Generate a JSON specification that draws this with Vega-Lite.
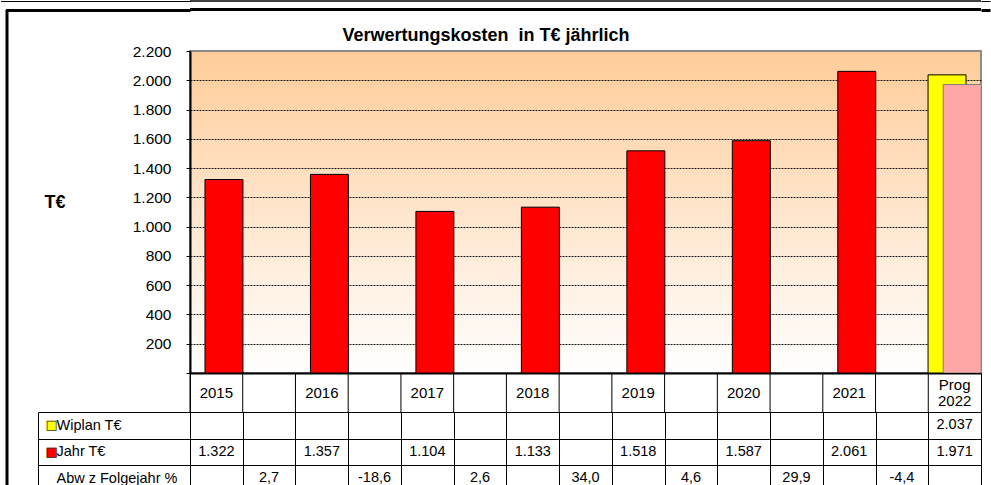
{
  "$schema": "https://vega.github.io/schema/vega-lite/v6.json",
  "padding": 0,
  "bounds": "flush",
  "spacing": 0,
  "config": {
    "font": "Liberation Sans",
    "view": {"stroke": null},
    "locale": {"number": {"decimal": ",", "thousands": ".", "grouping": [3], "currency": ["", " €"], "minus": "-"}},
    "axis": {"labelColor": "black", "titleColor": "black"}
  },
  "datasets": {
    "cols": [
      {"col": "2015", "label": "2015"},
      {"col": "2015/16", "label": ""},
      {"col": "2016", "label": "2016"},
      {"col": "2016/17", "label": ""},
      {"col": "2017", "label": "2017"},
      {"col": "2017/18", "label": ""},
      {"col": "2018", "label": "2018"},
      {"col": "2018/19", "label": ""},
      {"col": "2019", "label": "2019"},
      {"col": "2019/20", "label": ""},
      {"col": "2020", "label": "2020"},
      {"col": "2020/21", "label": ""},
      {"col": "2021", "label": "2021"},
      {"col": "2021/22", "label": ""},
      {"col": "Prog 2022", "label": "Prog\n2022"}
    ],
    "bars": [
      {"col": "2015", "series": "Jahr T€", "value": 1322},
      {"col": "2016", "series": "Jahr T€", "value": 1357},
      {"col": "2017", "series": "Jahr T€", "value": 1104},
      {"col": "2018", "series": "Jahr T€", "value": 1133},
      {"col": "2019", "series": "Jahr T€", "value": 1518},
      {"col": "2020", "series": "Jahr T€", "value": 1587},
      {"col": "2021", "series": "Jahr T€", "value": 2061},
      {"col": "Prog 2022", "series": "Jahr T€", "value": 1971},
      {"col": "Prog 2022", "series": "Wiplan T€", "value": 2037}
    ],
    "abw": [
      {"col": "2015/16", "row": "Abw z Folgejahr %", "value": 2.7},
      {"col": "2016/17", "row": "Abw z Folgejahr %", "value": -18.6},
      {"col": "2017/18", "row": "Abw z Folgejahr %", "value": 2.6},
      {"col": "2018/19", "row": "Abw z Folgejahr %", "value": 34.0},
      {"col": "2019/20", "row": "Abw z Folgejahr %", "value": 4.6},
      {"col": "2020/21", "row": "Abw z Folgejahr %", "value": 29.9},
      {"col": "2021/22", "row": "Abw z Folgejahr %", "value": -4.4}
    ]
  },
  "vconcat": [
    {
      "width": 791,
      "height": 8.5,
      "data": {"values": [{}]},
      "layer": [
        {
          "mark": {"type": "rule", "color": "black", "strokeWidth": 1},
          "encoding": {
            "y": {"datum": 1, "type": "quantitative", "scale": {"domain": [0, 1]},
              "axis": {"orient": "left", "values": [1], "domain": false, "labels": false, "grid": false, "ticks": true, "tickColor": "black", "tickSize": 189.5, "tickWidth": 1, "title": null}}
          }
        },
        {
          "mark": {"type": "rule", "color": "black", "strokeWidth": 1},
          "encoding": {
            "y": {"datum": 1, "type": "quantitative", "scale": {"domain": [0, 1]},
              "axis": {"orient": "right", "values": [1], "domain": false, "labels": false, "grid": false, "ticks": true, "tickColor": "black", "tickSize": 9, "tickWidth": 1, "title": null}}
          }
        },
        {
          "mark": {"type": "rule", "color": "black", "strokeWidth": 3},
          "encoding": {
            "y": {"datum": 0, "type": "quantitative", "scale": {"domain": [0, 1]},
              "axis": {"orient": "left", "values": [0], "domain": false, "labels": false, "grid": false, "ticks": true, "tickColor": "black", "tickSize": 184.5, "tickWidth": 3, "title": null}}
          }
        },
        {
          "mark": {"type": "rule", "color": "black", "strokeWidth": 3},
          "encoding": {
            "y": {"datum": 0, "type": "quantitative", "scale": {"domain": [0, 1]},
              "axis": {"orient": "right", "values": [0], "domain": false, "labels": false, "grid": false, "ticks": true, "tickColor": "black", "tickSize": 9, "tickWidth": 3, "title": null}}
          }
        },
        {
          "mark": {"type": "rule", "strokeOpacity": 0},
          "encoding": {
            "y": {"datum": 0, "type": "quantitative", "scale": {"domain": [0, 1], "range": [484, 8.5]},
              "axis": {"orient": "left", "offset": 183.5, "domain": true, "domainColor": "black", "domainWidth": 3, "ticks": false, "labels": false, "grid": false, "title": null}}
          }
        }
      ],
      "resolve": {"scale": {"y": "independent"}, "axis": {"y": "independent"}}
    },
    {
      "width": 791,
      "height": 40.5,
      "data": {"values": [{}]},
      "mark": {"type": "text", "text": "Verwertungskosten\u00a0 in T€ jährlich", "fontSize": 18, "fontWeight": "bold", "baseline": "alphabetic", "dx": -99.5, "dy": 10.25, "color": "black"},
      "encoding": {
        "y": {"datum": 0.5, "type": "quantitative", "scale": {"domain": [0, 1]}, "axis": null}
      }
    },
    {
      "width": 791,
      "height": 322,
      "view": {
        "fill": {"gradient": "linear", "x1": 0, "y1": 0, "x2": 0, "y2": 1, "stops": [{"offset": 0, "color": "#FFCC99"}, {"offset": 1, "color": "#FFFFFF"}]},
        "stroke": "#8c8c8c",
        "strokeWidth": 2
      },
      "data": {"name": "bars"},
      "layer": [
        {
          "transform": [{"filter": "datum.series == 'Wiplan T€'"}],
          "mark": {"type": "bar", "fill": "#FFFF00", "stroke": "black", "strokeWidth": 1, "width": {"band": 0.72}, "xOffset": -7.6},
          "encoding": {
            "x": {"field": "col", "type": "nominal",
              "scale": {"type": "band", "domain": ["2015", "2015/16", "2016", "2016/17", "2017", "2017/18", "2018", "2018/19", "2019", "2019/20", "2020", "2020/21", "2021", "2021/22", "Prog 2022"], "paddingInner": 0, "paddingOuter": 0},
              "axis": {"orient": "bottom", "domain": true, "domainColor": "black", "domainWidth": 2, "ticks": false, "labels": false, "grid": false, "title": null}},
            "y": {"field": "value", "type": "quantitative", "scale": {"domain": [0, 2200]},
              "axis": {
                "orient": "left",
                "values": [0, 200, 400, 600, 800, 1000, 1200, 1400, 1600, 1800, 2000, 2200],
                "format": ",.0f",
                "labelExpr": "datum.value == 0 ? '' : datum.label",
                "labelFontSize": 15.5, "labelColor": "black", "labelPadding": 15,
                "tickSize": 4, "tickColor": "black", "tickWidth": 1,
                "domainColor": "black", "domainWidth": 2,
                "grid": true, "gridColor": "#1a1a1a", "gridWidth": 1, "gridDash": [2, 1],
                "gridOpacity": {"condition": {"test": "datum.value == 0 || datum.value == 2200", "value": 0}, "value": 1},
                "title": "T€", "titleAngle": 0, "titleFontSize": 18, "titleFontWeight": "bold", "titleColor": "black",
                "titleAlign": "left", "titleBaseline": "middle", "titleX": -146, "titleY": 151
              }}
          }
        },
        {
          "transform": [{"filter": "datum.series == 'Jahr T€' && datum.col != 'Prog 2022'"}],
          "mark": {"type": "bar", "fill": "#FF0000", "stroke": "black", "strokeWidth": 1, "width": {"band": 0.72}, "xOffset": 7.6},
          "encoding": {
            "x": {"field": "col", "type": "nominal",
              "scale": {"type": "band", "domain": ["2015", "2015/16", "2016", "2016/17", "2017", "2017/18", "2018", "2018/19", "2019", "2019/20", "2020", "2020/21", "2021", "2021/22", "Prog 2022"], "paddingInner": 0, "paddingOuter": 0},
              "axis": {"orient": "bottom", "domain": true, "domainColor": "black", "domainWidth": 2, "ticks": false, "labels": false, "grid": false, "title": null}},
            "y": {"field": "value", "type": "quantitative", "scale": {"domain": [0, 2200]}, "axis": null}
          }
        },
        {
          "transform": [{"filter": "datum.series == 'Jahr T€' && datum.col == 'Prog 2022'"}],
          "mark": {"type": "bar", "fill": "#FFA6A6", "stroke": "#7f7f7f", "strokeWidth": 1, "width": {"band": 0.72}, "xOffset": 7.6},
          "encoding": {
            "x": {"field": "col", "type": "nominal",
              "scale": {"type": "band", "domain": ["2015", "2015/16", "2016", "2016/17", "2017", "2017/18", "2018", "2018/19", "2019", "2019/20", "2020", "2020/21", "2021", "2021/22", "Prog 2022"], "paddingInner": 0, "paddingOuter": 0},
              "axis": {"orient": "bottom", "domain": true, "domainColor": "black", "domainWidth": 2, "ticks": false, "labels": false, "grid": false, "title": null}},
            "y": {"field": "value", "type": "quantitative", "scale": {"domain": [0, 2200]}, "axis": null}
          }
        }
      ],
      "resolve": {"axis": {"y": "independent"}}
    },
    {
      "width": 791,
      "height": 39,
      "view": {"stroke": "black", "strokeWidth": 1},
      "data": {"name": "cols"},
      "layer": [
        {
          "mark": {"type": "rule", "color": "black", "strokeWidth": 1},
          "encoding": {
            "x": {"field": "col", "type": "nominal", "bandPosition": 0,
              "scale": {"type": "band", "domain": ["2015", "2015/16", "2016", "2016/17", "2017", "2017/18", "2018", "2018/19", "2019", "2019/20", "2020", "2020/21", "2021", "2021/22", "Prog 2022"], "paddingInner": 0, "paddingOuter": 0},
              "axis": null}
          }
        },
        {
          "transform": [{"filter": "datum.col != 'Prog 2022'"}],
          "mark": {"type": "text", "fontSize": 15, "baseline": "middle", "color": "black"},
          "encoding": {
            "x": {"field": "col", "type": "nominal",
              "scale": {"type": "band", "domain": ["2015", "2015/16", "2016", "2016/17", "2017", "2017/18", "2018", "2018/19", "2019", "2019/20", "2020", "2020/21", "2021", "2021/22", "Prog 2022"], "paddingInner": 0, "paddingOuter": 0},
              "axis": null},
            "y": {"datum": 0.5, "type": "quantitative", "scale": {"domain": [0, 1]}, "axis": null},
            "text": {"field": "label"}
          }
        },
        {
          "transform": [{"filter": "datum.col == 'Prog 2022'"}],
          "mark": {"type": "text", "fontSize": 15, "lineBreak": "\n", "lineHeight": 16, "baseline": "middle", "dy": -8, "color": "black"},
          "encoding": {
            "x": {"field": "col", "type": "nominal",
              "scale": {"type": "band", "domain": ["2015", "2015/16", "2016", "2016/17", "2017", "2017/18", "2018", "2018/19", "2019", "2019/20", "2020", "2020/21", "2021", "2021/22", "Prog 2022"], "paddingInner": 0, "paddingOuter": 0},
              "axis": null},
            "y": {"datum": 0.5, "type": "quantitative", "scale": {"domain": [0, 1]}, "axis": null},
            "text": {"field": "label"}
          }
        }
      ]
    },
    {
      "width": 791,
      "height": 79.5,
      "view": {"stroke": "black", "strokeWidth": 1},
      "layer": [
        {
          "data": {"name": "bars"},
          "transform": [{"filter": "datum.series == 'Jahr T€'"}],
          "mark": {"type": "text", "fontSize": 14.5, "baseline": "middle", "color": "black"},
          "encoding": {
            "x": {"field": "col", "type": "nominal",
              "scale": {"type": "band", "domain": ["2015", "2015/16", "2016", "2016/17", "2017", "2017/18", "2018", "2018/19", "2019", "2019/20", "2020", "2020/21", "2021", "2021/22", "Prog 2022"], "paddingInner": 0, "paddingOuter": 0},
              "axis": {"orient": "bottom", "grid": true, "tickBand": "extent", "gridColor": "black", "gridWidth": 1, "domain": false, "ticks": false, "labels": false, "title": null}},
            "y": {"field": "series", "type": "nominal",
              "scale": {"type": "band", "domain": ["Wiplan T€", "Jahr T€", "Abw z Folgejahr %"], "paddingInner": 0, "paddingOuter": 0},
              "axis": {"orient": "left", "domain": false, "ticks": true, "tickBand": "extent", "tickSize": 152, "tickColor": "black", "tickWidth": 1, "grid": true, "gridColor": "black", "gridWidth": 1, "labels": true, "labelAlign": "left", "labelBaseline": "middle", "labelPadding": -18, "labelFontSize": 14.5, "labelColor": "black", "labelLimit": 0, "title": null}},
            "text": {"field": "value", "type": "quantitative", "format": ",.0f"}
          }
        },
        {
          "data": {"name": "bars"},
          "transform": [{"filter": "datum.series == 'Wiplan T€'"}],
          "mark": {"type": "text", "fontSize": 14.5, "baseline": "middle", "color": "black"},
          "encoding": {
            "x": {"field": "col", "type": "nominal",
              "scale": {"type": "band", "domain": ["2015", "2015/16", "2016", "2016/17", "2017", "2017/18", "2018", "2018/19", "2019", "2019/20", "2020", "2020/21", "2021", "2021/22", "Prog 2022"], "paddingInner": 0, "paddingOuter": 0},
              "axis": null},
            "y": {"field": "series", "type": "nominal",
              "scale": {"type": "band", "domain": ["Wiplan T€", "Jahr T€", "Abw z Folgejahr %"], "paddingInner": 0, "paddingOuter": 0},
              "axis": {"orient": "left", "offset": 152, "domain": false, "ticks": false, "tickSize": 0, "grid": false, "labels": true,
                "labelExpr": "datum.value == 'Abw z Folgejahr %' ? '' : '■'",
                "labelFont": "DejaVu Sans", "labelFontSize": 13, "labelAlign": "left", "labelBaseline": "middle", "labelPadding": -7,
                "labelColor": {"condition": {"test": "datum.value == 'Wiplan T€'", "value": "#FFFF00"}, "value": "#FF0000"},
                "title": null}},
            "text": {"field": "value", "type": "quantitative", "format": ",.0f"}
          }
        },
        {
          "data": {"name": "abw"},
          "mark": {"type": "text", "fontSize": 14.5, "baseline": "middle", "color": "black"},
          "encoding": {
            "x": {"field": "col", "type": "nominal",
              "scale": {"type": "band", "domain": ["2015", "2015/16", "2016", "2016/17", "2017", "2017/18", "2018", "2018/19", "2019", "2019/20", "2020", "2020/21", "2021", "2021/22", "Prog 2022"], "paddingInner": 0, "paddingOuter": 0},
              "axis": null},
            "y": {"field": "row", "type": "nominal",
              "scale": {"type": "band", "domain": ["Wiplan T€", "Jahr T€", "Abw z Folgejahr %"], "paddingInner": 0, "paddingOuter": 0},
              "axis": {"orient": "left", "offset": 152, "domain": true, "domainColor": "black", "domainWidth": 1, "ticks": false, "tickSize": 0, "grid": false, "labels": true,
                "labelExpr": "datum.value == 'Abw z Folgejahr %' ? '' : '□'",
                "labelFont": "DejaVu Sans", "labelFontSize": 13, "labelAlign": "left", "labelBaseline": "middle", "labelPadding": -7,
                "labelColor": "#333333",
                "title": null}},
            "text": {"field": "value", "type": "quantitative", "format": ".1f"}
          }
        }
      ],
      "resolve": {"axis": {"x": "independent", "y": "independent"}}
    }
  ]
}
